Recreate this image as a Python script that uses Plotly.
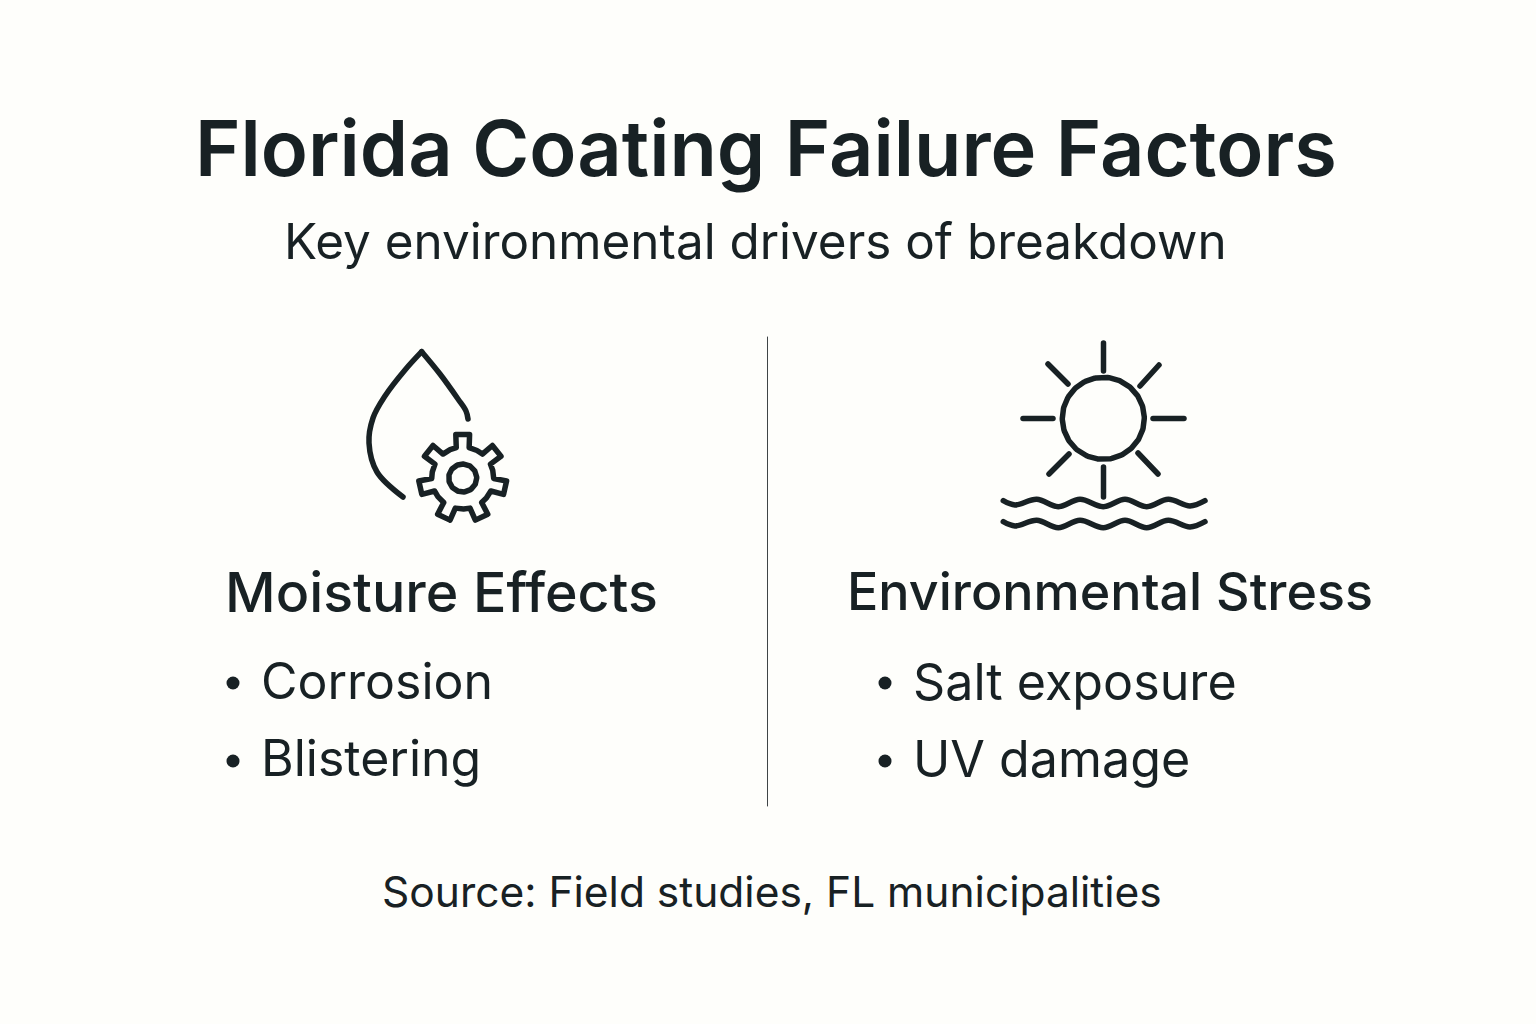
import numpy as np
import plotly.graph_objects as go

INK = "#182124"
BACKGROUND = "#fefefb"
FONT = "Inter"

title = "Florida Coating Failure Factors"
subtitle = "Key environmental drivers of breakdown"
source = "Source: Field studies, FL municipalities"
headings = ["Moisture Effects", "Environmental Stress"]
moisture_items = ["Corrosion", "Blistering"]
stress_items = ["Salt exposure", "UV damage"]

# icon outlines, in page pixels
drop_right_x = [421.7, 440, 458, 466, 468]
drop_right_y = [351.7, 374, 399, 411, 419]
drop_left_x = [421.7, 405, 385, 373, 369, 377, 403]
drop_left_y = [351.7, 370, 396, 418, 443, 472, 497]
ray_x = [1103.5, 1103.5, None, 1153, 1184, None, 1023, 1053, None, 1103.5, 1103.5, None,
         1140, 1159, None, 1068, 1048, None, 1069, 1049, None, 1138, 1158]
ray_y = [343, 371, None, 418.5, 418.5, None, 418.5, 418.5, None, 467, 497, None,
         386, 365, None, 384, 364, None, 454, 474, None, 453, 474]
wave_x = [1003.3, 1015, 1036.7, 1058.3, 1080, 1103.3, 1125, 1146.7, 1168.3, 1190, 1205]
wave_y = [500.7, 505, 499.3, 506.7, 499.3, 506.7, 499.3, 506.7, 499.3, 506, 500.7]
wave_gap = 21


def gear_outline(cx, cy, outer, root, teeth=7):
    xs, ys = [], []
    for i in range(teeth):
        a = 90 - i * 360 / teeth
        for da, r in [(24, root), (12, root), (9, outer), (-9, outer), (-12, root), (-24, root)]:
            t = np.radians(a + da)
            xs.append(cx + r * np.cos(t))
            ys.append(cy - r * np.sin(t))
    return xs + xs[:1], ys + ys[:1]


def circle(cx, cy, r):
    t = np.radians(np.arange(0, 362, 2))
    return cx + r * np.cos(t), cy + r * np.sin(t)


def stroke(fig, x, y, width=5.5, shape="linear", color=INK):
    fig.add_trace(go.Scatter(x=x, y=y, mode="lines", hoverinfo="skip",
                             line=dict(color=color, width=width, shape=shape, smoothing=1.0)))


def label(fig, text, x, y, size, weight=400, anchor="left"):
    fig.add_annotation(x=x, y=y, text=text, showarrow=False, xanchor=anchor, yanchor="middle",
                       xref="x", yref="y", font=dict(family=FONT, size=size, color=INK, weight=weight))


fig = go.Figure()

stroke(fig, drop_right_x, drop_right_y, shape="spline")
stroke(fig, drop_left_x, drop_left_y, shape="spline")
gx, gy = gear_outline(462.7, 478, 44, 31)
stroke(fig, gx, gy)
cx, cy = circle(462.7, 478, 14)
stroke(fig, cx, cy)

cx, cy = circle(1103.3, 418.3, 41)
stroke(fig, cx, cy)
stroke(fig, ray_x, ray_y)
stroke(fig, wave_x, wave_y, shape="spline")
stroke(fig, wave_x, [v + wave_gap for v in wave_y], shape="spline")

# divider between the two columns
stroke(fig, [767.5, 767.5], [337, 806], width=1, color="#3f4446")

# list bullets
fig.add_trace(go.Scatter(x=[233, 233, 885, 885], y=[683, 761, 683, 761], mode="markers",
                         hoverinfo="skip", marker=dict(color=INK, size=13)))

label(fig, title, 765.5, 148, 77.5, weight=600, anchor="center")
label(fig, subtitle, 755, 241, 49.4, anchor="center")
label(fig, headings[0], 223, 591, 55.5, weight=500)
label(fig, headings[1], 845, 591, 52, weight=500)
for text, y in zip(moisture_items, [681, 758]):
    label(fig, text, 259, y, 50)
for text, y in zip(stress_items, [681, 758]):
    label(fig, text, 911, y, 50.2)
label(fig, source, 771.5, 891, 42.5, anchor="center")

fig.update_layout(
    width=1536, height=1024, margin=dict(l=0, r=0, t=0, b=0),
    paper_bgcolor=BACKGROUND, plot_bgcolor=BACKGROUND, showlegend=False,
    xaxis=dict(range=[0, 1536], visible=False, fixedrange=True),
    yaxis=dict(range=[1024, 0], visible=False, fixedrange=True),
)
# round line ends like the icons in the original
page_css = ("document.body.style.margin='0';document.body.style.background='%s';"
            "var s=document.createElement('style');"
            "s.textContent='.js-line{stroke-linecap:round;stroke-linejoin:round}';"
            "document.head.appendChild(s);" % BACKGROUND)
fig.write_html("out.html", config=dict(displayModeBar=False), post_script=page_css)
